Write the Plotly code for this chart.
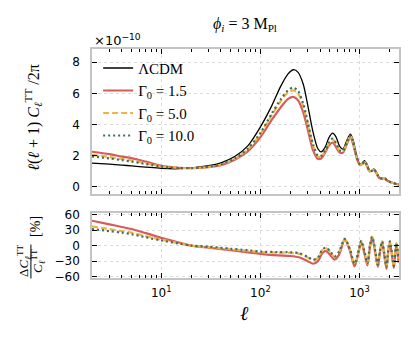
import plotly.graph_objects as go

# multipole grid for the spectra (top panel)
ell = [2, 3, 4, 5, 7, 10, 15, 20, 30, 40, 55, 75, 100, 130, 160, 190, 215, 240,
       270, 300, 340, 380, 410, 450, 490, 535, 580, 630, 680, 740, 810, 870, 940,
       1010, 1060, 1120, 1190, 1260, 1330, 1400, 1480, 1580, 1680, 1780, 1900,
       2050, 2200, 2350, 2500]

# l(l+1)C_l/2pi in units of 1e-10
cl_lcdm = [1.53, 1.46, 1.40, 1.35, 1.27, 1.19, 1.17, 1.22, 1.36, 1.55, 1.95, 2.65,
           3.85, 5.2, 6.45, 7.25, 7.52, 7.35, 6.6, 5.25, 3.5, 2.45, 2.25, 2.55,
           3.15, 3.45, 3.2, 2.6, 2.43, 2.95, 3.38, 2.9, 1.95, 1.47, 1.5, 1.68,
           1.45, 1.06, 1.05, 1.15, 0.95, 0.6, 0.55, 0.6, 0.42, 0.32, 0.26, 0.2, 0.17]
cl_g15 = [2.26, 2.1, 1.95, 1.85, 1.62, 1.36, 1.23, 1.2, 1.27, 1.4, 1.75, 2.3,
          3.2, 4.3, 5.1, 5.65, 5.78, 5.55, 4.8, 3.7, 2.35, 1.8, 1.82, 2.2,
          2.65, 2.85, 2.55, 2.2, 2.2, 2.7, 3.2, 2.65, 1.8, 1.4, 1.45, 1.6,
          1.33, 1.0, 1.02, 1.1, 0.88, 0.57, 0.53, 0.56, 0.4, 0.3, 0.25, 0.19, 0.16]
cl_g50 = [2.06, 1.92, 1.8, 1.7, 1.52, 1.32, 1.22, 1.2, 1.29, 1.44, 1.8, 2.42,
          3.4, 4.6, 5.5, 6.05, 6.2, 6.0, 5.2, 4.05, 2.65, 1.95, 1.95, 2.3,
          2.8, 3.05, 2.75, 2.3, 2.28, 2.78, 3.28, 2.75, 1.85, 1.42, 1.47, 1.63,
          1.37, 1.02, 1.03, 1.12, 0.9, 0.58, 0.54, 0.57, 0.41, 0.31, 0.25, 0.19, 0.16]
cl_g100 = [1.96, 1.83, 1.72, 1.63, 1.47, 1.3, 1.21, 1.21, 1.3, 1.46, 1.83, 2.47,
           3.47, 4.7, 5.62, 6.2, 6.37, 6.15, 5.35, 4.15, 2.72, 2.0, 2.0, 2.35,
           2.85, 3.1, 2.8, 2.35, 2.3, 2.8, 3.3, 2.78, 1.87, 1.43, 1.48, 1.64,
           1.38, 1.03, 1.04, 1.13, 0.91, 0.59, 0.54, 0.58, 0.41, 0.31, 0.25, 0.19, 0.16]

# relative difference to LCDM in percent (bottom panel)
ell_diff = [2, 3, 4, 5, 7, 10, 15, 20, 30, 50, 75, 100, 150, 200, 250, 300, 340,
            380, 420, 455, 500, 560, 620, 710, 800, 890, 960, 1040, 1120, 1200,
            1270, 1340, 1430, 1530, 1600, 1690, 1780, 1870, 1940, 2020, 2110,
            2220, 2350, 2480]
diff_g15 = [48, 41, 36, 32, 24, 15, 6, 0, -4, -9, -13, -16, -19, -20, -23, -30, -35,
            -30, -15, -10, -17, -27, -18, 12, -10, -40, -20, 7, -15, -38,
            -5, 16, -10, -41, -15, 6, -20, -45, -15, 6, -15,
            -43, 3, -33]
diff_g50 = [37, 32, 28, 25, 18, 11.5, 4.5, 0, -3, -7, -10, -12.5, -13.5, -14, -16, -23, -28,
            -24, -9, -5, -11, -22, -13, 13, -8, -36, -17, 9, -12, -35,
            -2, 17, -7, -38, -12, 8, -17, -42, -12, 8, -12,
            -40, 5, -28]
diff_g100 = [32, 28, 25, 22, 16, 10, 4, 0, -2, -6, -9, -11.5, -12.5, -13, -15, -22, -27,
             -23, -8, -4, -10, -21, -12, 13, -7, -35, -16, 9, -11, -34,
             -1, 17, -6, -37, -11, 8, -16, -41, -11, 8, -11,
             -39, 5, -27]

labels = ["ΛCDM", "Γ<sub>0</sub> = 1.5", "Γ<sub>0</sub> = 5.0", "Γ<sub>0</sub> = 10.0"]
colors = ["black", "#d65b5b", "#efb43f", "#3e6e60"]
dashes = ["solid", "solid", "6px,3px", "2px,3px"]
widths = [1.3, 2.2, 2.2, 2.2]

serif = "Liberation Serif"
sans = "DejaVu Sans"

fig = go.Figure()
for lab, ys, c, d, w in zip(labels, [cl_lcdm, cl_g15, cl_g50, cl_g100], colors, dashes, widths):
    fig.add_trace(go.Scatter(x=ell, y=ys, mode="lines", name=lab,
                             line=dict(color=c, dash=d, width=w, shape="spline", smoothing=0.8),
                             xaxis="x", yaxis="y"))
for ys, c, d, w in zip([diff_g15, diff_g50, diff_g100], colors[1:], dashes[1:], widths[1:]):
    fig.add_trace(go.Scatter(x=ell_diff, y=ys, mode="lines", showlegend=False,
                             line=dict(color=c, dash=d, width=w, shape="spline", smoothing=0.8),
                             xaxis="x2", yaxis="y2"))

minor_vals = [2, 3, 4, 5, 6, 7, 8, 9, 20, 30, 40, 50, 60, 70, 80, 90,
              200, 300, 400, 500, 600, 700, 800, 900, 2000]

xcommon = dict(type="log", range=[0.301, 3.398], tickmode="array",
               tickvals=[10, 100, 1000],
               ticktext=["10<sup>1</sup>", "10<sup>2</sup>", "10<sup>3</sup>"],
               ticks="inside", ticklen=5, tickwidth=1.2, tickcolor="black",
               showline=True, linecolor="#c4c4c4", linewidth=1.5, mirror="allticks",
               showgrid=True, gridcolor="#dcdcdc", griddash="dot", gridwidth=1,
               zeroline=False, automargin=False,
               minor=dict(tickmode="array", tickvals=minor_vals, ticks="inside",
                          ticklen=3.5, tickwidth=1.2, tickcolor="black", showgrid=False),
               tickfont=dict(family=sans, size=12, color="black"))
ycommon = dict(ticks="inside", ticklen=5, tickwidth=1.2, tickcolor="black",
               showline=True, linecolor="#c4c4c4", linewidth=1.5, mirror="allticks",
               showgrid=True, gridcolor="#dcdcdc", griddash="dot", gridwidth=1,
               zeroline=False, ticklabelstandoff=8, automargin=False,
               tickfont=dict(family=sans, size=12, color="black"))

fig.update_layout(
    width=415, height=338,
    margin=dict(l=92, r=16, t=49, b=60, autoexpand=False),
    paper_bgcolor="white", plot_bgcolor="white",
    font=dict(family=serif, color="black"),
    xaxis=dict(xcommon, domain=[0, 1], anchor="y", showticklabels=False),
    yaxis=dict(ycommon, domain=[0.367, 1], anchor="x", range=[-0.45, 8.85],
               tickvals=[0, 2, 4, 6, 8]),
    xaxis2=dict(xcommon, domain=[0, 1], anchor="y2", ticklabelstandoff=3),
    yaxis2=dict(ycommon, domain=[0, 0.284], anchor="x2", range=[-62.5, 63],
                tickvals=[-60, -30, 0, 30, 60]),
    legend=dict(x=0.02, y=0.988, xanchor="left", yanchor="top",
                bgcolor="rgba(0,0,0,0)", font=dict(family=serif, size=15, color="black"),
                tracegroupgap=0),
    showlegend=True,
)

ann = [
    dict(text="<i>ϕ<sub>i</sub></i> = 3 M<sub>Pl</sub>", x=0.498, y=1.105,
         font=dict(family=serif, size=16)),
    dict(text="×10<sup>−10</sup>", x=0.0, y=1.04, xanchor="left",
         font=dict(family=sans, size=13)),
    dict(text="<i>ℓ</i>(<i>ℓ</i> + 1) <i>C</i><sub><i>ℓ</i></sub><sup>TT</sup> /2π",
         x=-0.192, y=0.70, textangle=-90, font=dict(family=serif, size=16)),
    dict(text="Δ<i>C</i><sub><i>ℓ</i></sub><sup>TT</sup>", x=-0.222, y=0.074,
         textangle=-90, font=dict(family=serif, size=13)),
    dict(text="<i>C</i><sub><i>ℓ</i></sub><sup>TT</sup>", x=-0.176, y=0.074,
         textangle=-90, font=dict(family=serif, size=13)),
    dict(text="[%]", x=-0.186, y=0.227, textangle=-90, font=dict(family=serif, size=14)),
    dict(text="<i>ℓ</i>", x=0.498, y=-0.153, font=dict(family=serif, size=20)),
]
for a in ann:
    a.setdefault("xanchor", "center")
    fig.add_annotation(xref="paper", yref="paper", showarrow=False, yanchor="middle",
                       **a)

# fraction bar of the lower y label
fig.add_shape(type="line", xref="paper", yref="paper", x0=-0.199, x1=-0.199,
              y0=-0.002, y1=0.146, line=dict(color="black", width=1))

# drop the default page margin so the figure sits at the window origin
fig.write_html("out.html", config={"displayModeBar": False},
               post_script="document.body.style.margin='0px';")
